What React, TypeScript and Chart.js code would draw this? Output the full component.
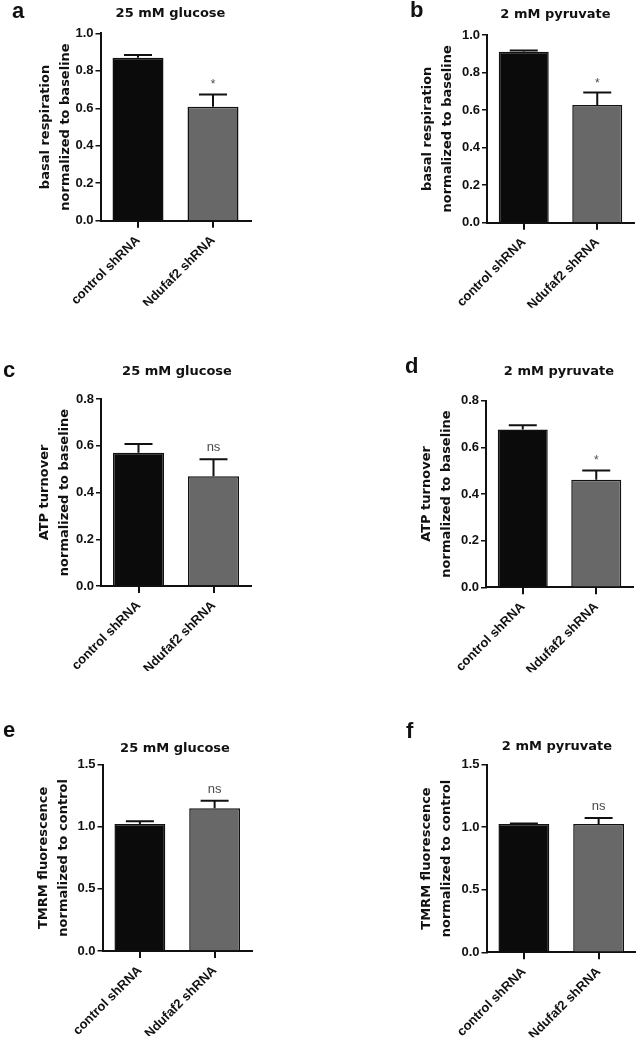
import React, { useEffect, useRef } from "react";
import { Chart, registerables } from "chart.js";

Chart.register(...registerables);

// ---------- data ----------
const categories = ["control shRNA", "Ndufaf2 shRNA"];

const basalGlucoseMean = [0.87, 0.608];
const basalGlucoseErr = [0.014, 0.066];
const basalPyruvateMean = [0.911, 0.627];
const basalPyruvateErr = [0.007, 0.066];
const atpGlucoseMean = [0.57, 0.47];
const atpGlucoseErr = [0.037, 0.072];
const atpPyruvateMean = [0.677, 0.461];
const atpPyruvateErr = [0.018, 0.04];
const tmrmGlucoseMean = [1.022, 1.149];
const tmrmGlucoseErr = [0.022, 0.061];
const tmrmPyruvateMean = [1.026, 1.026];
const tmrmPyruvateErr = [0.003, 0.047];

const sigBasalGlucose = ["", "*"];
const sigBasalPyruvate = ["", "*"];
const sigAtpGlucose = ["", "ns"];
const sigAtpPyruvate = ["", "*"];
const sigTmrmGlucose = ["", "ns"];
const sigTmrmPyruvate = ["", "ns"];

const ticksBasal = [0, 0.2, 0.4, 0.6, 0.8, 1.0];
const ticksAtp = [0, 0.2, 0.4, 0.6, 0.8];
const ticksTmrm = [0, 0.5, 1.0, 1.5];

const titleGlucose = "25 mM glucose";
const titlePyruvate = "2 mM pyruvate";
const yTitleBasal = ["basal respiration", "normalized to baseline"];
const yTitleAtp = ["ATP turnover", "normalized to baseline"];
const yTitleTmrm = ["TMRM fluorescence", "normalized to control"];

const barColors = ["#0b0b0b", "#686868"];

// ---------- layout ----------
type Panel = {
  letter: string;
  title: string;
  yTitle: string[];
  mean: number[];
  err: number[];
  sig: string[];
  ticks: number[];
  box: { x: number; y: number; w: number; h: number };
  area: { l: number; r: number; t: number; b: number };
  scaleLeft: number;
  letterPos: [number, number];
  titlePos: [number, number];
};

const panels: Panel[] = [
  {
    letter: "a", title: titleGlucose, yTitle: yTitleBasal,
    mean: basalGlucoseMean, err: basalGlucoseErr, sig: sigBasalGlucose, ticks: ticksBasal,
    box: { x: 0, y: 0, w: 318, h: 340 },
    area: { l: 100.5, r: 250.5, t: 33.3, b: 220.7 },
    scaleLeft: 35.5, letterPos: [12, 18], titlePos: [170.5, 17],
  },
  {
    letter: "b", title: titlePyruvate, yTitle: yTitleBasal,
    mean: basalPyruvateMean, err: basalPyruvateErr, sig: sigBasalPyruvate, ticks: ticksBasal,
    box: { x: 318, y: 0, w: 318, h: 340 },
    area: { l: 169, r: 316, t: 35, b: 222.7 },
    scaleLeft: 100, letterPos: [92, 17], titlePos: [237.5, 18],
  },
  {
    letter: "c", title: titleGlucose, yTitle: yTitleAtp,
    mean: atpGlucoseMean, err: atpGlucoseErr, sig: sigAtpGlucose, ticks: ticksAtp,
    box: { x: 0, y: 330, w: 318, h: 355 },
    area: { l: 101, r: 251, t: 69, b: 256 },
    scaleLeft: 34.5, letterPos: [3, 47], titlePos: [177, 45],
  },
  {
    letter: "d", title: titlePyruvate, yTitle: yTitleAtp,
    mean: atpPyruvateMean, err: atpPyruvateErr, sig: sigAtpPyruvate, ticks: ticksAtp,
    box: { x: 318, y: 330, w: 318, h: 355 },
    area: { l: 168, r: 315, t: 70.7, b: 257.3 },
    scaleLeft: 98.5, letterPos: [87, 43], titlePos: [241, 45],
  },
  {
    letter: "e", title: titleGlucose, yTitle: yTitleTmrm,
    mean: tmrmGlucoseMean, err: tmrmGlucoseErr, sig: sigTmrmGlucose, ticks: ticksTmrm,
    box: { x: 0, y: 660, w: 318, h: 385 },
    area: { l: 102.5, r: 252, t: 104.7, b: 291 },
    scaleLeft: 33.5, letterPos: [3, 77], titlePos: [175, 92],
  },
  {
    letter: "f", title: titlePyruvate, yTitle: yTitleTmrm,
    mean: tmrmPyruvateMean, err: tmrmPyruvateErr, sig: sigTmrmPyruvate, ticks: ticksTmrm,
    box: { x: 318, y: 660, w: 318, h: 385 },
    area: { l: 168.5, r: 318, t: 104.7, b: 292.3 },
    scaleLeft: 98.5, letterPos: [88, 78], titlePos: [239, 90],
  },
];

const X_AXIS_H = 85;
const INK = "#111";

function overlayPlugin(p: Panel) {
  return {
    id: "overlay" + p.letter,
    afterDatasetsDraw(chart: any) {
      const ctx = chart.ctx as CanvasRenderingContext2D;
      const ys = chart.scales.y;
      const meta = chart.getDatasetMeta(0);
      ctx.save();
      ctx.strokeStyle = INK;
      ctx.lineWidth = 2;
      meta.data.forEach((bar: any, i: number) => {
        const base = ys.getPixelForValue(p.mean[i]);
        const top = ys.getPixelForValue(p.mean[i] + p.err[i]);
        ctx.beginPath();
        ctx.moveTo(bar.x, base);
        ctx.lineTo(bar.x, top);
        ctx.moveTo(bar.x - 14, top);
        ctx.lineTo(bar.x + 14, top);
        ctx.stroke();
        const s = p.sig[i];
        if (s) {
          ctx.fillStyle = "#4a4a4a";
          ctx.textAlign = "center";
          ctx.textBaseline = "alphabetic";
          if (s === "*") {
            ctx.font = "12px 'Liberation Sans'";
            ctx.fillText(s, bar.x, top - 6);
          } else {
            ctx.font = "13px 'Liberation Sans'";
            ctx.fillText(s, bar.x, top - 8);
          }
        }
      });
      ctx.restore();
    },
    afterDraw(chart: any) {
      const ctx = chart.ctx as CanvasRenderingContext2D;
      ctx.save();
      ctx.fillStyle = INK;
      ctx.textBaseline = "alphabetic";
      ctx.textAlign = "left";
      ctx.font = "bold 22px 'Liberation Sans'";
      ctx.fillText(p.letter, p.letterPos[0], p.letterPos[1]);
      ctx.textAlign = "center";
      ctx.font = "bold 13px 'DejaVu Sans'";
      ctx.fillText(p.title, p.titlePos[0], p.titlePos[1]);
      ctx.restore();
    },
  };
}

function PanelChart({ p }: { p: Panel }) {
  const ref = useRef<HTMLCanvasElement | null>(null);
  useEffect(() => {
    if (!ref.current) return;
    const yMax = p.ticks[p.ticks.length - 1];
    const chart = new Chart(ref.current, {
      type: "bar",
      data: {
        labels: categories,
        datasets: [
          {
            data: p.mean,
            backgroundColor: barColors,
            borderColor: INK,
            borderWidth: 1.5,
            barPercentage: 0.68,
            categoryPercentage: 1,
          },
        ],
      },
      options: {
        responsive: false,
        animation: false,
        devicePixelRatio: 1,
        events: [],
        layout: {
          padding: {
            left: p.scaleLeft,
            right: p.box.w - p.area.r,
            top: p.area.t,
            bottom: p.box.h - p.area.b - X_AXIS_H,
          },
        },
        plugins: {
          legend: { display: false },
          tooltip: { enabled: false },
          title: { display: false },
        },
        scales: {
          x: {
            type: "category",
            offset: true,
            grid: {
              display: true,
              drawOnChartArea: false,
              drawTicks: true,
              tickLength: 7,
              offset: false,
              color: INK,
              lineWidth: 2,
            },
            border: { display: true, color: INK, width: 2 },
            ticks: {
              autoSkip: false,
              maxRotation: 45,
              minRotation: 45,
              padding: 5,
              color: INK,
              font: { family: "'Liberation Sans'", weight: "bold", size: 13 },
            },
            afterFit: (s: any) => {
              s.height = X_AXIS_H;
              s.paddingLeft = 0;
              s.paddingRight = 0;
            },
          },
          y: {
            min: 0,
            max: yMax,
            afterBuildTicks: (s: any) => {
              s.ticks = p.ticks.map((v) => ({ value: v }));
            },
            ticks: {
              callback: (v: any) => Number(v).toFixed(1),
              padding: 2,
              color: INK,
              font: { family: "'Liberation Sans'", weight: "bold", size: 13 },
            },
            grid: {
              display: true,
              drawOnChartArea: false,
              drawTicks: true,
              tickLength: 5,
              color: INK,
              lineWidth: 1.5,
            },
            border: { display: true, color: INK, width: 2 },
            title: {
              display: true,
              text: p.yTitle,
              padding: 0,
              color: INK,
              font: { family: "'DejaVu Sans'", weight: "bold", size: 13, lineHeight: "20px" },
            },
            afterFit: (s: any) => {
              s.width = p.area.l - p.scaleLeft;
              s.paddingTop = 0;
              s.paddingBottom = 0;
            },
          },
        },
      } as any,
      plugins: [overlayPlugin(p)],
    });
    return () => chart.destroy();
  }, [p]);

  return (
    <div
      style={{
        position: "absolute",
        left: p.box.x,
        top: p.box.y,
        width: p.box.w,
        height: p.box.h,
      }}
    >
      <canvas
        ref={ref}
        width={p.box.w}
        height={p.box.h}
        style={{ display: "block", width: p.box.w, height: p.box.h }}
      />
    </div>
  );
}

export default function App() {
  return (
    <div
      style={{
        position: "absolute",
        left: 0,
        top: 0,
        width: 636,
        height: 1045,
        background: "#ffffff",
        overflow: "hidden",
      }}
    >
      {panels.map((p) => (
        <PanelChart key={p.letter} p={p} />
      ))}
    </div>
  );
}
